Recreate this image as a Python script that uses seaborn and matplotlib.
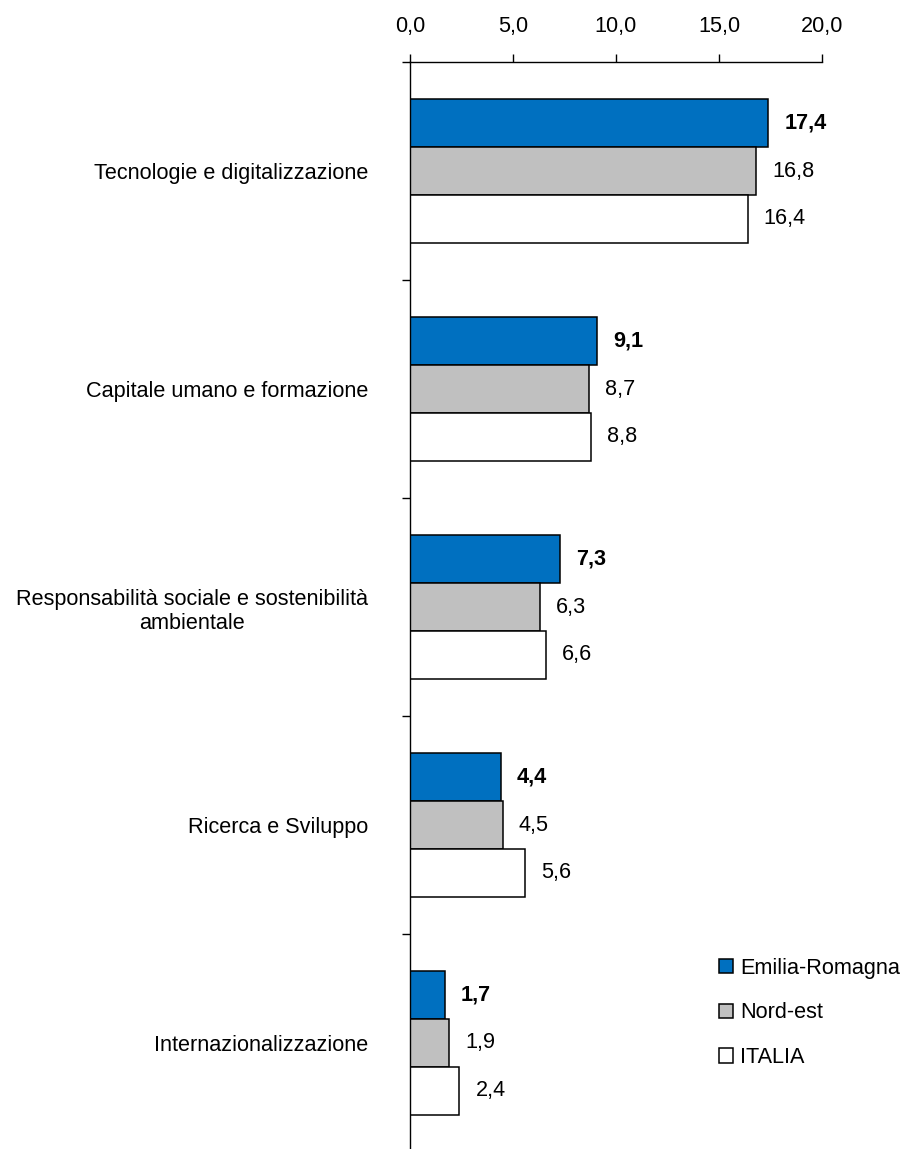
import matplotlib
matplotlib.use("Agg")
import matplotlib.pyplot as plt
from matplotlib.ticker import FuncFormatter
import seaborn as sns
import pandas as pd

# Categories and values (%)
categorie = [
    "Tecnologie e digitalizzazione",
    "Capitale umano e formazione",
    "Responsabilità sociale e sostenibilità\nambientale",
    "Ricerca e Sviluppo",
    "Internazionalizzazione",
]
aree = ["Emilia-Romagna", "Nord-est", "ITALIA"]
emilia_romagna = [17.4, 9.1, 7.3, 4.4, 1.7]
nord_est = [16.8, 8.7, 6.3, 4.5, 1.9]
italia = [16.4, 8.8, 6.6, 5.6, 2.4]
colori = ["#0070C0", "#C0C0C0", "#FFFFFF"]
x_ticks = [0, 5, 10, 15, 20]

serie = [emilia_romagna, nord_est, italia]
df = pd.DataFrame(
    [
        {"categoria": c, "area": a, "valore": v}
        for a, vals in zip(aree, serie)
        for c, v in zip(categorie, vals)
    ]
)

sns.set_theme(style="white")
plt.rcParams["font.family"] = ["Liberation Sans", "DejaVu Sans"]
plt.rcParams["text.color"] = "black"
FS = 15.6

fig = plt.figure(figsize=(9.03, 11.49), dpi=100)
ax = fig.add_axes([0.4540, -0.0026, 0.4563, 0.9486])

sns.barplot(
    data=df, x="valore", y="categoria", hue="area", order=categorie,
    hue_order=aree, palette=colori, orient="h", width=0.66,
    saturation=1, edgecolor="black", linewidth=1.1, legend=False, ax=ax,
)

fmt = lambda v: f"{v:.1f}".replace(".", ",")
for i, cont in enumerate(ax.containers):
    ax.bar_label(
        cont, labels=[fmt(b.get_width()) for b in cont], padding=11.5,
        fontsize=FS, color="black",
        fontweight="bold" if i == 0 else "normal",
    )

# X axis on top
ax.set_xlim(0, 20)
ax.xaxis.set_ticks_position("top")
ax.xaxis.set_label_position("top")
ax.set_xticks(x_ticks)
ax.xaxis.set_major_formatter(FuncFormatter(lambda v, p: fmt(v)))
ax.tick_params(axis="x", direction="out", length=6, width=1, color="black",
               pad=12, labelsize=FS, labelcolor="black")
ax.set_xlabel("")

# Y axis: ticks at group boundaries, labels at group centres
ax.set_ylim(len(categorie) - 0.5, -0.5)
ax.set_yticks([i - 0.5 for i in range(len(categorie) + 1)], labels=[])
ax.set_yticks(range(len(categorie)), labels=categorie, minor=True)
ax.tick_params(axis="y", which="major", direction="out", length=6, width=1,
               color="black", left=True)
ax.tick_params(axis="y", which="minor", length=0, pad=30, labelsize=FS,
               labelcolor="black")
for lab in ax.get_yticklabels(minor=True):
    lab.set_multialignment("center")
ax.set_ylabel("")

for side in ["bottom", "right"]:
    ax.spines[side].set_visible(False)
for side in ["top", "left"]:
    ax.spines[side].set_color("black")
    ax.spines[side].set_linewidth(1)
ax.grid(False)

# Legend
handles = [plt.Rectangle((0, 0), 1, 1, facecolor=c, edgecolor="black", linewidth=1.1)
           for c in colori]
fig.legend(
    handles, aree, loc="center left", bbox_to_anchor=(0.796, 0.1184),
    frameon=False, fontsize=FS, handlelength=0.65, handleheight=0.65,
    handletextpad=0.32, labelspacing=1.1, borderpad=0, borderaxespad=0,
    labelcolor="black",
)

fig.savefig("out.png", dpi=100, facecolor="white")
